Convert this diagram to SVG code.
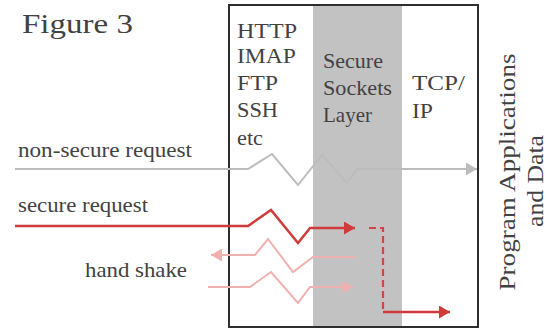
<svg xmlns="http://www.w3.org/2000/svg" width="548" height="329" viewBox="0 0 548 329" font-family="'Liberation Serif', 'Times New Roman', serif">
<style>
text{font-family:"Liberation Serif","Times New Roman",serif;fill:#424242}
.lbl{font-size:22px}
.stack{font-size:21px}
.gray{fill:none;stroke:#bcbcbc;stroke-width:2;stroke-linejoin:miter}
.red{fill:none;stroke:#cf3a3a;stroke-width:2.5}
.pale{fill:none;stroke:#f0b0b0;stroke-width:2}
.dash{fill:none;stroke:#d24545;stroke-width:2.2;stroke-dasharray:7 4}
</style>
<defs>
<marker id="ahGray" markerUnits="userSpaceOnUse" markerWidth="11" markerHeight="13" refX="11" refY="6.5" orient="auto"><path d="M0,0 L11,6.5 L0,13 z" fill="#bcbcbc"/></marker>
<marker id="ahRed" markerUnits="userSpaceOnUse" markerWidth="11" markerHeight="13" refX="11" refY="6.5" orient="auto"><path d="M0,0 L11,6.5 L0,13 z" fill="#cf3a3a"/></marker>
<marker id="ahPale" markerUnits="userSpaceOnUse" markerWidth="11" markerHeight="13" refX="11" refY="6.5" orient="auto"><path d="M0,0 L11,6.5 L0,13 z" fill="#f0b0b0"/></marker>
</defs>
<rect width="548" height="329" fill="#ffffff"/>

<g id="title"><text x="22" y="33" font-size="27" textLength="111" lengthAdjust="spacingAndGlyphs">Figure 3</text></g>

<g id="stack">
<rect x="229" y="5" width="249" height="322" fill="#ffffff"/>
<rect id="ssl-band" x="313" y="6" width="89" height="320" fill="#c2c2c2"/>
<rect x="229" y="5" width="249" height="322" fill="none" stroke="#2e2e2e" stroke-width="2"/>
</g>

<g id="apps-layer">
<text class="stack" x="237" y="38" textLength="60" lengthAdjust="spacingAndGlyphs">HTTP</text>
<text class="stack" x="237" y="63" textLength="59" lengthAdjust="spacingAndGlyphs">IMAP</text>
<text class="stack" x="237" y="90" textLength="41" lengthAdjust="spacingAndGlyphs">FTP</text>
<text class="stack" x="237" y="117" textLength="41" lengthAdjust="spacingAndGlyphs">SSH</text>
<text class="stack" x="237" y="145" textLength="26" lengthAdjust="spacingAndGlyphs">etc</text>
</g>

<g id="ssl-layer">
<text class="stack" x="323" y="68" textLength="60" lengthAdjust="spacingAndGlyphs">Secure</text>
<text class="stack" x="323" y="95" textLength="69" lengthAdjust="spacingAndGlyphs">Sockets</text>
<text class="stack" x="323" y="122" textLength="49" lengthAdjust="spacingAndGlyphs">Layer</text>
</g>

<g id="tcpip-layer">
<text class="stack" x="412" y="90" textLength="53" lengthAdjust="spacingAndGlyphs">TCP/</text>
<text class="stack" x="412" y="118" textLength="21" lengthAdjust="spacingAndGlyphs">IP</text>
</g>

<g id="program-apps">
<text font-size="24" text-anchor="middle" transform="translate(515,172) rotate(-90)" textLength="237" lengthAdjust="spacingAndGlyphs">Program Applications</text>
<text font-size="24" text-anchor="middle" transform="translate(543,181) rotate(-90)" textLength="92" lengthAdjust="spacingAndGlyphs">and Data</text>
</g>

<g id="labels">
<text class="lbl" x="18" y="157" textLength="174" lengthAdjust="spacingAndGlyphs">non-secure request</text>
<text class="lbl" x="18" y="212" textLength="130" lengthAdjust="spacingAndGlyphs">secure request</text>
<text class="lbl" x="85" y="277" textLength="102" lengthAdjust="spacingAndGlyphs">hand shake</text>
</g>

<g id="connectors">
<polyline id="non-secure" class="gray" points="15,169 248,169 272,154 298,185 322,155 347,183 357,169 477,169" marker-end="url(#ahGray)"/>
<polyline id="secure" class="red" points="15,226 248,226 271,210 298,243 310,228 355,228" marker-end="url(#ahRed)"/>
<polyline id="handshake-back" class="pale" points="355,257 313,257 293,272 268,239 255,255 211,255" marker-end="url(#ahPale)"/>
<polyline id="handshake-fwd" class="pale" points="208,287 250,287 271,272 298,303 310,287 353,287" marker-end="url(#ahPale)"/>
<polyline id="secure-relay" class="dash" points="369,228 383,228 383,312"/>
<polyline id="secure-out" class="red" stroke-width="2.2" points="383,312 450,312" marker-end="url(#ahRed)"/>
</g>
</svg>
